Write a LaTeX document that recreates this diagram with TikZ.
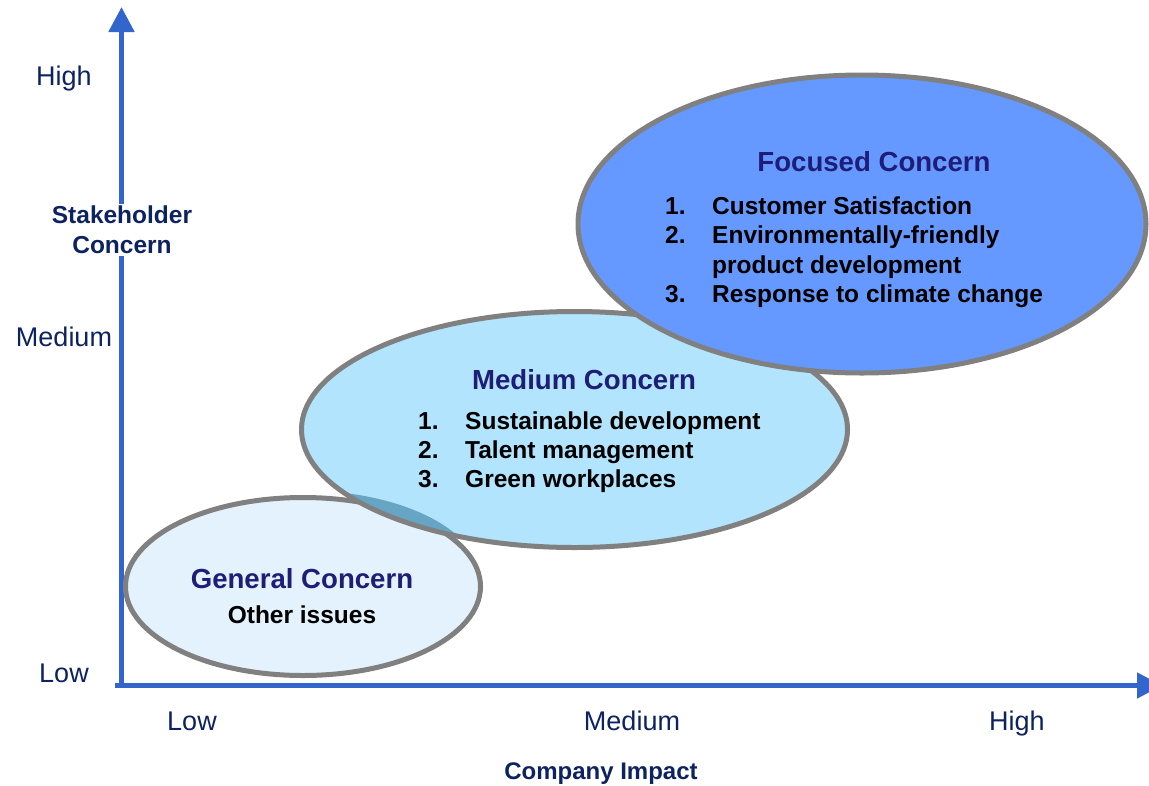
\documentclass[tikz,border=0pt]{standalone}
\usepackage{fontspec}
\setmainfont{Liberation Sans}
\usetikzlibrary{arrows.meta}
\definecolor{axisblue}{HTML}{3366CC}
\definecolor{navy}{HTML}{0D2260}
\definecolor{titleblue}{HTML}{1E1E78}
\definecolor{rimgray}{HTML}{808080}
\definecolor{focfill}{HTML}{6699FF}
\definecolor{medfill}{HTML}{B2E4FD}
\definecolor{genfill}{HTML}{E3F2FD}
\definecolor{lensfill}{HTML}{66A6C4}

\begin{document}
\begin{tikzpicture}[x=1pt,y=-1pt,
    axis/.style={draw=axisblue,line width=5pt},
    rim/.style={draw=rimgray,line width=5pt},
    tick/.style={text=navy,font=\fontsize{27}{31}\selectfont,anchor=base,inner sep=0pt},
    head/.style={text=titleblue,font=\bfseries\fontsize{27.6}{32}\selectfont,anchor=base,inner sep=0pt},
    item/.style={font=\bfseries\fontsize{24.5}{29}\selectfont,anchor=base west,inner sep=0pt}]
    \useasboundingbox (0,0) rectangle (1149,785);
    \coordinate (o) at (121.5,688);
    \coordinate (xs) at (115,685.5);
    \coordinate (ytop) at (121.5,7);
    \coordinate (xend) at (1162,685.5);
    \draw[axis,-{Triangle[length=25pt,width=25pt]}] (o) -- (ytop);
    \draw[axis,-{Triangle[length=25pt,width=25pt]}] (xs) -- (xend);
    %ellipses
    \def\gen{(303,586.5) ellipse [x radius=177.5,y radius=89]}
    \def\med{(574.5,429.5) ellipse [x radius=273,y radius=118]}
    \draw[rim,fill=genfill] \gen;
    \fill[medfill] \med;
    \begin{scope}
      \clip (303,579.5) ellipse [x radius=177.5,y radius=89];
      \fill[lensfill] \med;
    \end{scope}
    \draw[rim] \med;
    \draw[rim,fill=focfill] (862,224) ellipse [x radius=284,y radius=149];
    %texts
    \node[head] (fc) at (874,171) {Focused Concern};
    \foreach \n/\t [count=\i] in {1./Customer Satisfaction,2./Environmentally-friendly,/product development,3./Response to climate change}
      {\node[item] (fn\i) at (665,{184.5+29.5*\i}) {\n};
       \node[item] (ft\i) at (712,{184.5+29.5*\i}) {\t};}
    \node[head] (mc) at (584,389) {Medium Concern};
    \foreach \n/\t [count=\i] in {1./Sustainable development,2./Talent management,3./Green workplaces}
      {\node[item] (mn\i) at (418,{400+29*\i}) {\n};
       \node[item] (mt\i) at (465,{400+29*\i}) {\t};}
    \node[head] (gc) at (302,588) {General Concern};
    \node[item,anchor=base] (gt) at (302,623) {Other issues};
    %axis labels
    \foreach \t/\y [count=\i] in {High/85,Medium/346,Low/682}
      {\node[tick] (yl\i) at (64,\y) {\t};}
    \foreach \t/\x [count=\i] in {Low/192,Medium/632,High/1017}
      {\node[tick] (xl\i) at (\x,730) {\t};}
    \node[fill=white,text=navy,font=\bfseries\fontsize{24.5}{30}\selectfont,align=center,inner sep=2pt] (ylab) at (122,230) {Stakeholder\\Concern};
    \node[text=navy,font=\bfseries\fontsize{24}{28}\selectfont,anchor=base,inner sep=0pt] (xlab) at (601,779) {Company Impact};
  \end{tikzpicture}
\end{document}
